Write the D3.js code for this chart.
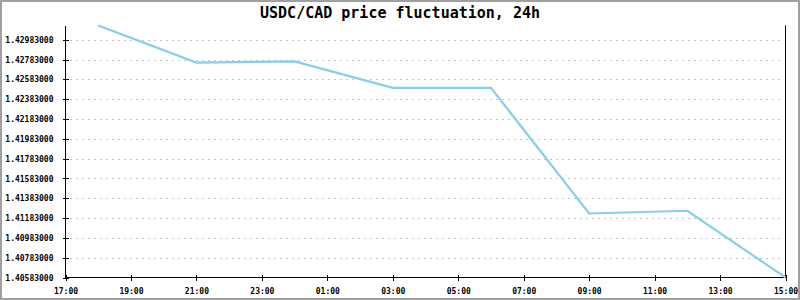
<!DOCTYPE html>
<html>
  <head>
    <script src="https://d3js.org/d3.v7.min.js"></script>
    <style>
      body { margin: 0; background-color: #fff; }
      svg { display: block; }
      text { font-family: "DejaVu Sans Mono", monospace; fill: #000; }
    </style>
  </head>
  <body>
    <svg id="canvas" width="800" height="300"></svg>
  </body>

  <script>
    const title = 'USDC/CAD price fluctuation, 24h'

    // hourly readings, the day starts at 17:00
    const times = ['18:00', '21:00', '00:00', '03:00', '06:00', '09:00', '12:00', '15:00']
    const prices = [1.43127, 1.42752, 1.42764, 1.42498, 1.42498, 1.41229, 1.41257, 1.40583]

    const yTicks = [1.40583, 1.40783, 1.40983, 1.41183, 1.41383, 1.41583, 1.41783,
                    1.41983, 1.42183, 1.42383, 1.42583, 1.42783, 1.42983]
    const xTicks = ['17:00', '19:00', '21:00', '23:00', '01:00', '03:00',
                    '05:00', '07:00', '09:00', '11:00', '13:00', '15:00']

    // turn "HH:MM" into a date, hours before 17:00 belong to the next day
    const toDate = s => {
      const [h, m] = s.split(':').map(Number)
      return new Date(2024, 0, h < 17 ? 2 : 1, h, m)
    }

    const data = times.map((t, i) => ({ date: toDate(t), value: prices[i] }))

    const margin = { top: 25, right: 15, bottom: 23, left: 65 }
    const width = 800
    const height = 300

    const svg = d3.select('#canvas')

    // outer frame
    svg.append('rect')
      .attr('x', 1).attr('y', 1)
      .attr('width', width - 2).attr('height', height - 2)
      .attr('fill', '#fff')
      .attr('stroke', '#a0a0a0')
      .attr('stroke-width', 2)

    svg.append('text')
      .attr('x', width / 2)
      .attr('y', 18)
      .attr('text-anchor', 'middle')
      .style('font-size', '15px')
      .style('font-weight', 'bold')
      .text(title)

    const x = d3.scaleTime()
      .domain([toDate(xTicks[0]), toDate(xTicks[xTicks.length - 1])])
      .range([margin.left + .5, width - margin.right + .5])

    const y = d3.scaleLinear()
      .domain(d3.extent(prices))
      .range([height - margin.bottom + .5, margin.top + .5])

    // dashed grid
    svg.append('g')
      .selectAll('line')
      .data(yTicks.slice(1))
      .join('line')
        .attr('x1', x.range()[0] + 4)
        .attr('x2', x.range()[1] - 2)
        .attr('y1', d => Math.round(y(d)) + .5)
        .attr('y2', d => Math.round(y(d)) + .5)
        .attr('stroke', '#c4c4c4')
        .attr('stroke-dasharray', '2,4')
        .attr('shape-rendering', 'crispEdges')

    // left axis
    const yAxis = svg.append('g')
      .attr('transform', `translate(${x.range()[0]},0)`)
      .call(d3.axisLeft(y).tickValues(yTicks).tickSize(3).tickPadding(9).tickFormat(d3.format('.8f')))
    yAxis.select('.domain').attr('d', `M0,${y.range()[0]}V${y.range()[1]}`)
    yAxis.selectAll('.tick line').attr('x2', -3).attr('x1', 3)
    yAxis.selectAll('text').style('font-size', '8px').style('font-weight', 'bold')

    // bottom axis
    const xAxis = svg.append('g')
      .attr('transform', `translate(0,${y.range()[0]})`)
      .call(d3.axisBottom(x).tickValues(xTicks.map(toDate)).tickSize(3).tickPadding(8).tickFormat(d3.timeFormat('%H:%M')))
    xAxis.select('.domain').attr('d', `M${x.range()[0]},0H${x.range()[1]}`)
    xAxis.selectAll('.tick line').attr('y1', -3).attr('y2', 3)
    xAxis.selectAll('text').style('font-size', '8px').style('font-weight', 'bold')

    // right border of the plot
    svg.append('line')
      .attr('x1', x.range()[1]).attr('x2', x.range()[1])
      .attr('y1', y.range()[0]).attr('y2', y.range()[1])
      .attr('stroke', '#000')

    svg.selectAll('.domain, .tick line').attr('shape-rendering', 'crispEdges')

    const line = d3.line()
      .x(d => x(d.date))
      .y(d => y(d.value))

    svg.append('path')
      .datum(data)
      .attr('d', line)
      .attr('fill', 'none')
      .attr('stroke', '#87ceeb')
      .attr('stroke-width', 2.2)
  </script>
</html>
